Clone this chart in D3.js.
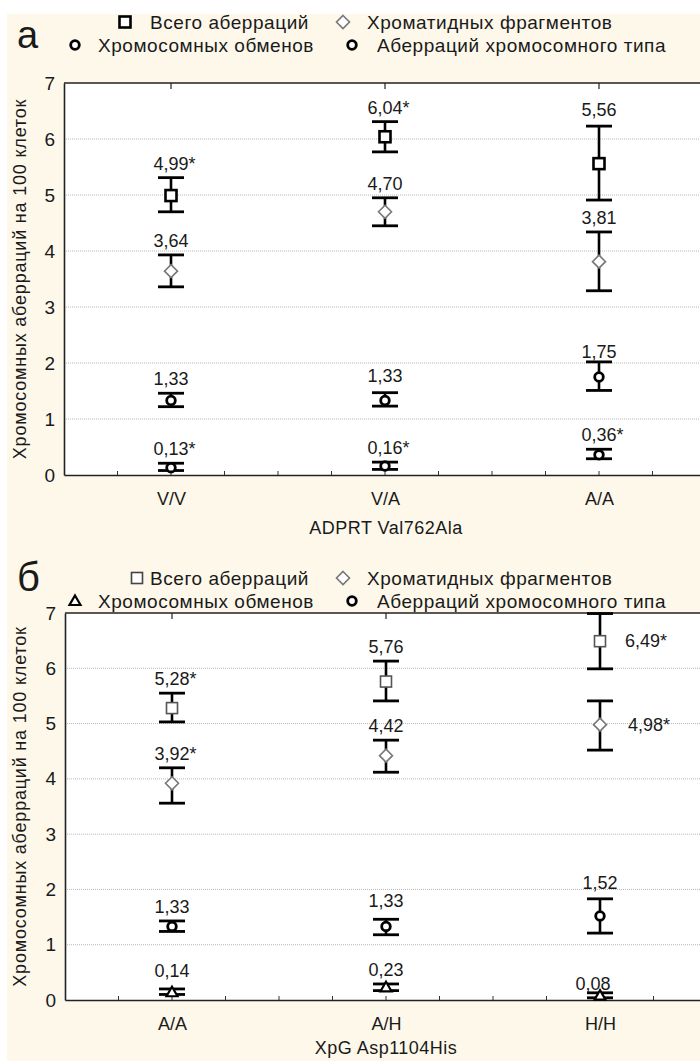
<!DOCTYPE html>
<html><head><meta charset="utf-8">
<script src="https://cdn.jsdelivr.net/npm/d3@7"></script>
<style>
html,body{margin:0;padding:0;background:#fff;}
svg text{font-family:"Liberation Sans",Arial,sans-serif;fill:#1a1a1a;}
</style></head>
<body><svg id="chart" width="700" height="1061"></svg>
<script>
// ---------- DATA ----------
const seriesNames = ["Всего аберраций","Хроматидных фрагментов","Хромосомных обменов","Аберраций хромосомного типа"];
const yTicks = [0,1,2,3,4,5,6,7];

// Panel а : ADPRT Val762Ala
const categoriesA = ["V/V","V/A","A/A"];
const totalA      = [4.99, 6.04, 5.56];
const totalA_lo   = [4.70, 5.77, 4.91];
const totalA_hi   = [5.31, 6.31, 6.23];
const chromatidA    = [3.64, 4.70, 3.81];
const chromatidA_lo = [3.36, 4.45, 3.29];
const chromatidA_hi = [3.93, 4.95, 4.34];
const chromTypeA    = [1.33, 1.33, 1.75];
const chromTypeA_lo = [1.22, 1.23, 1.51];
const chromTypeA_hi = [1.46, 1.47, 2.02];
const exchangeA    = [0.13, 0.16, 0.36];
const exchangeA_lo = [0.08, 0.10, 0.29];
const exchangeA_hi = [0.21, 0.23, 0.46];
const labelsA = {total:["4,99*","6,04*","5,56"], chromatid:["3,64","4,70","3,81"], chromType:["1,33","1,33","1,75"], exchange:["0,13*","0,16*","0,36*"]};

// Panel б : XpG Asp1104His
const categoriesB = ["A/A","A/H","H/H"];
const totalB      = [5.28, 5.76, 6.49];
const totalB_lo   = [5.03, 5.41, 5.99];
const totalB_hi   = [5.55, 6.13, 6.99];
const chromatidB    = [3.92, 4.42, 4.98];
const chromatidB_lo = [3.56, 4.12, 4.52];
const chromatidB_hi = [4.20, 4.70, 5.41];
const chromTypeB    = [1.33, 1.33, 1.52];
const chromTypeB_lo = [1.24, 1.18, 1.21];
const chromTypeB_hi = [1.43, 1.46, 1.83];
const exchangeB    = [0.14, 0.23, 0.08];
const exchangeB_lo = [0.10, 0.17, 0.04];
const exchangeB_hi = [0.20, 0.29, 0.13];
const labelsB = {total:["5,28*","5,76","6,49*"], chromatid:["3,92*","4,42","4,98*"], chromType:["1,33","1,33","1,52"], exchange:["0,14","0,23","0,08"]};

// ---------- DRAW ----------
const svg = d3.select("#chart");
svg.append("rect").attr("x",7).attr("y",14).attr("width",693).attr("height",1047).attr("fill","#fdf8ea");

const FONT = 18;

function marker(g, type, x, y, style){
  if(type==="square"){
    g.append("rect").attr("x",x-5.5).attr("y",y-5.5).attr("width",11).attr("height",11)
      .attr("fill","#fff").attr("stroke",style.stroke).attr("stroke-width",style.sw);
  } else if(type==="diamond"){
    g.append("path").attr("d",`M${x},${y-6.5}L${x+6.5},${y}L${x},${y+6.5}L${x-6.5},${y}Z`)
      .attr("fill","#fff").attr("stroke","#777").attr("stroke-width",1.6);
  } else if(type==="circle"){
    g.append("circle").attr("cx",x).attr("cy",y).attr("r",4.3)
      .attr("fill","#fff").attr("stroke","#000").attr("stroke-width",2.8);
  } else if(type==="triangle"){
    g.append("path").attr("d",`M${x},${y-5.5}L${x+5.5},${y+4}L${x-5.5},${y+4}Z`)
      .attr("fill","#fff").attr("stroke","#000").attr("stroke-width",2.2);
  }
}

function drawPanel(p){
  const g = svg.append("g");
  const x = d3.scalePoint().domain(p.categories).range([p.left, p.left+642]).padding(0.5);
  const y = d3.scaleLinear().domain([0,7]).range([p.bottom, p.top]);

  // plot area
  g.append("rect").attr("x",p.left).attr("y",p.top).attr("width",700-p.left).attr("height",p.bottom-p.top).attr("fill","#fff");
  // grid
  g.append("g").selectAll("line").data(yTicks.filter(t=>t>0&&t<7)).join("line")
    .attr("x1",p.left).attr("x2",700).attr("y1",d=>y(d)).attr("y2",d=>y(d))
    .attr("stroke","#b8b8b8").attr("stroke-width",1).attr("stroke-dasharray","1,1");

  // y axis
  const ya = g.append("g").attr("transform",`translate(${p.left},0)`)
    .call(d3.axisLeft(y).tickValues(yTicks).tickSize(0).tickPadding(9).tickFormat(d3.format("d")));
  ya.select(".domain").attr("stroke","#222").attr("stroke-width",1.6);
  ya.selectAll("text").attr("font-size",FONT+1).attr("font-family","Liberation Sans Narrow, Liberation Sans, sans-serif").attr("fill","#222");

  // x axis (bottom)
  const xa = g.append("g").attr("transform",`translate(0,${p.bottom})`)
    .call(d3.axisBottom(x).tickSize(0).tickPadding(17));
  xa.select(".domain").attr("stroke","#222").attr("stroke-width",1.6);
  xa.selectAll("text").attr("font-size",FONT).attr("fill","#222");
  // minor ticks bottom (inward)
  const step = x.step();
  const minor = d3.range(-1, 11).map(i => x(p.categories[0]) - step/2 + i*step/4 + step/4).filter(v=>v>p.left+2 && v<700);
  g.append("g").selectAll("line").data(minor).join("line")
    .attr("x1",d=>d).attr("x2",d=>d).attr("y1",p.bottom).attr("y2",p.bottom-4)
    .attr("stroke","#333").attr("stroke-width",1);
  // top border + ticks
  g.append("line").attr("x1",p.left).attr("x2",700).attr("y1",p.top).attr("y2",p.top).attr("stroke","#222").attr("stroke-width",1.6);
  g.append("g").selectAll("line").data(p.categories).join("line")
    .attr("x1",d=>x(d)).attr("x2",d=>x(d)).attr("y1",p.top).attr("y2",p.top+6)
    .attr("stroke","#222").attr("stroke-width",1.2);

  // axis titles
  g.append("text").attr("x",386).attr("y",p.bottom+p.titleOff).attr("text-anchor","middle").attr("font-size",FONT)
    .attr("letter-spacing",0.5).attr("fill","#222").text(p.xTitle);
  g.append("text").attr("transform",`translate(26,${(p.top+p.bottom)/2}) rotate(-90)`).attr("text-anchor","middle")
    .attr("font-size",FONT).attr("letter-spacing",0.8).attr("fill","#222").text("Хромосомных аберраций на 100 клеток");

  // series
  p.series.forEach(s => {
    p.categories.forEach((c,i) => {
      const cx = x(c);
      const yh = y(s.hi[i]), yl = y(s.lo[i]), ym = y(s.v[i]);
      const sg = g.append("g");
      sg.append("line").attr("x1",cx).attr("x2",cx).attr("y1",yh).attr("y2",yl).attr("stroke","#000").attr("stroke-width",2.6);
      [yh,yl].forEach(yy => sg.append("line").attr("x1",cx-13).attr("x2",cx+13).attr("y1",yy).attr("y2",yy).attr("stroke","#000").attr("stroke-width",2.8));
      marker(sg, s.marker, cx, ym, s.style||{});
      // value label
      const lab = s.labels[i];
      const num = lab.replace("*","");
      const ov = (p.labelPos[s.key]||{})[i];
      const t = g.append("text").attr("font-size",FONT).attr("fill","#222");
      if(ov && ov.side){
        t.attr("x",cx+ov.dx).attr("y",ym+6).text(lab);
      } else {
        const off = ov && ov.dy!==undefined ? ov.dy : 8;
        const shift = ov && ov.dx ? ov.dx : 0;
        t.text(num);
        const w = t.node().getComputedTextLength();
        t.attr("x",cx - w/2 + shift).attr("y",yh-off);
        if(lab.endsWith("*")) t.text(lab);
      }
    });
  });
}

drawPanel({
  top:83, bottom:475, left:64, categories:categoriesA, xTitle:"ADPRT Val762Ala", titleOff:59,
  series:[
    {key:"total", v:totalA, lo:totalA_lo, hi:totalA_hi, marker:"square", style:{stroke:"#000",sw:2.6}, labels:labelsA.total},
    {key:"chromatid", v:chromatidA, lo:chromatidA_lo, hi:chromatidA_hi, marker:"diamond", labels:labelsA.chromatid},
    {key:"chromType", v:chromTypeA, lo:chromTypeA_lo, hi:chromTypeA_hi, marker:"circle", labels:labelsA.chromType},
    {key:"exchange", v:exchangeA, lo:exchangeA_lo, hi:exchangeA_hi, marker:"circle", labels:labelsA.exchange}
  ],
  labelPos:{ total:{2:{dy:10}}, chromType:{1:{dy:11},2:{dy:4}} }
});

drawPanel({
  top:613, bottom:1000, left:65, categories:categoriesB, xTitle:"XpG Asp1104His", titleOff:54,
  series:[
    {key:"total", v:totalB, lo:totalB_lo, hi:totalB_hi, marker:"square", style:{stroke:"#555",sw:1.6}, labels:labelsB.total},
    {key:"chromatid", v:chromatidB, lo:chromatidB_lo, hi:chromatidB_hi, marker:"diamond", labels:labelsB.chromatid},
    {key:"chromType", v:chromTypeB, lo:chromTypeB_lo, hi:chromTypeB_hi, marker:"circle", labels:labelsB.chromType},
    {key:"exchange", v:exchangeB, lo:exchangeB_lo, hi:exchangeB_hi, marker:"triangle", labels:labelsB.exchange}
  ],
  labelPos:{ total:{2:{side:true,dx:25}}, chromatid:{2:{side:true,dx:28}}, chromType:{1:{dy:12},2:{dy:10}}, exchange:{0:{dy:12},2:{dy:3,dx:-7}} }
});

// legends
function legend(y1, y2, lab, markers){
  const items = [
    {m:markers[0], mx:markers[0]==="square2"?137:125, tx:150, y:y1, t:seriesNames[0]},
    {m:"diamond", mx:343, tx:367, y:y1, t:seriesNames[1]},
    {m:markers[2], mx:75, tx:98, y:y2, t:seriesNames[2]},
    {m:"circle", mx:352, tx:377, y:y2, t:seriesNames[3]}
  ];
  items.forEach(it => {
    const g = svg.append("g");
    if(it.m==="square") marker(g,"square",it.mx,it.y,{stroke:"#000",sw:2.6});
    else if(it.m==="square2") marker(g,"square",it.mx,it.y,{stroke:"#444",sw:1.6});
    else marker(g,it.m,it.mx,it.y,{});
    svg.append("text").attr("x",it.tx).attr("y",it.y+7).attr("font-size",FONT+1).attr("letter-spacing",0.55)
      .attr("fill","#222").text(it.t);
  });
  svg.append("text").attr("x",17).attr("y",lab.y).attr("font-size",lab.size).attr("fill","#111").text(lab.t);
}
legend(22, 45, {t:"а", y:48, size:38}, ["square","diamond","circle"]);
legend(578, 601, {t:"б", y:591, size:40}, ["square2","diamond","triangle"]);
</script></body></html>
